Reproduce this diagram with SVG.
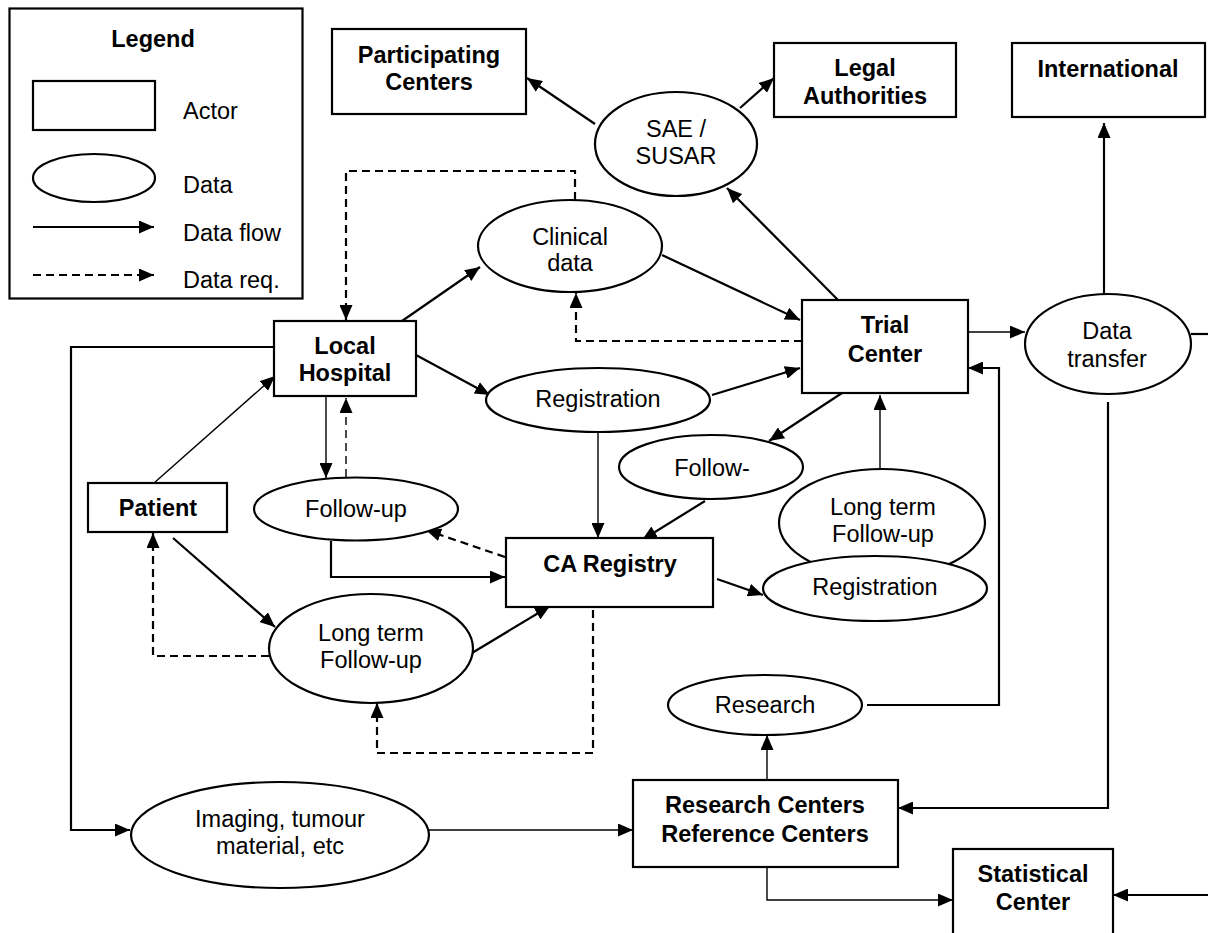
<svg xmlns="http://www.w3.org/2000/svg" width="1208" height="933" viewBox="0 0 1208 933">
  <style>
    text { font-family: "Liberation Sans", Arial, sans-serif; font-size: 23.5px; fill: #000; }
    .b { font-weight: bold; }
    .c { text-anchor: middle; }
    .shape { fill: #fff; stroke: #000; stroke-width: 2.2; }
    .ln { fill: none; stroke: #000; stroke-width: 2.2; }
    .thin { fill: none; stroke: #000; stroke-width: 1.4; }
    .dash { stroke-dasharray: 8 5; }
  </style>
  <defs>
    <marker id="ah" viewBox="0 0 15 13" refX="15" refY="6.5" markerWidth="15" markerHeight="13" markerUnits="userSpaceOnUse" orient="auto">
      <path d="M0,0 L15,6.5 L0,13 z" fill="#000"/>
    </marker>
  </defs>
  <rect width="1208" height="933" fill="#fff"/>

  <!-- legend -->
  <g id="legend">
    <rect class="shape" x="9.5" y="8.5" width="293" height="290"/>
    <text class="b c" x="153" y="47">Legend</text>
    <rect class="shape" x="33" y="81" width="122" height="49"/>
    <text x="183" y="119">Actor</text>
    <ellipse class="shape" cx="94" cy="178" rx="61" ry="24"/>
    <text x="183" y="193">Data</text>
    <line class="ln" x1="33" y1="227" x2="154" y2="227" marker-end="url(#ah)"/>
    <text x="183" y="241">Data flow</text>
    <line class="ln dash" x1="33" y1="275" x2="154" y2="275" marker-end="url(#ah)"/>
    <text x="183" y="288">Data req.</text>
  </g>

  <!-- connectors -->
  <g id="connectors">
    <line class="ln" x1="595" y1="124" x2="527" y2="78" marker-end="url(#ah)"/>
    <line class="ln" x1="740" y1="108" x2="774" y2="78" marker-end="url(#ah)"/>
    <line class="ln" x1="838" y1="300" x2="727" y2="188" marker-end="url(#ah)"/>
    <line class="ln" x1="662" y1="255" x2="800" y2="320" marker-end="url(#ah)"/>
    <line class="ln" x1="402" y1="321" x2="480" y2="267" marker-end="url(#ah)"/>
    <path class="ln dash" d="M575,200 V171 H346 V320" marker-end="url(#ah)"/>
    <path class="ln dash" d="M802,341 H576 V293" marker-end="url(#ah)"/>
    <line class="ln" x1="416" y1="355" x2="490" y2="395" marker-end="url(#ah)"/>
    <line class="ln" x1="712" y1="395" x2="800" y2="368" marker-end="url(#ah)"/>
    <line class="thin" x1="598" y1="432" x2="598" y2="538" marker-end="url(#ah)"/>
    <line class="thin" x1="154" y1="483" x2="275" y2="376" marker-end="url(#ah)"/>
    <line class="thin" x1="326" y1="396" x2="326" y2="478" marker-end="url(#ah)"/>
    <line class="thin dash" x1="346" y1="477" x2="346" y2="398" marker-end="url(#ah)"/>
    <path class="ln" d="M331,541 V577 H505" marker-end="url(#ah)"/>
    <line class="ln dash" x1="505" y1="557" x2="426" y2="530" marker-end="url(#ah)"/>
    <line class="ln" x1="842" y1="393" x2="769" y2="441" marker-end="url(#ah)"/>
    <line class="ln" x1="705" y1="501" x2="642" y2="540" marker-end="url(#ah)"/>
    <line class="thin" x1="880" y1="469" x2="880" y2="395" marker-end="url(#ah)"/>
    <line class="ln" x1="717" y1="579" x2="763" y2="595" marker-end="url(#ah)"/>
    <line class="ln" x1="173" y1="538" x2="275" y2="627" marker-end="url(#ah)"/>
    <path class="ln dash" d="M269,656 H153 V533" marker-end="url(#ah)"/>
    <line class="ln" x1="472" y1="653" x2="550" y2="606" marker-end="url(#ah)"/>
    <path class="ln dash" d="M593,610 V753 H377 V703" marker-end="url(#ah)"/>
    <path class="ln" d="M274,347 H71 V830 H130" marker-end="url(#ah)"/>
    <line class="thin" x1="419" y1="830" x2="633" y2="830" marker-end="url(#ah)"/>
    <line class="thin" x1="767" y1="780" x2="767" y2="735" marker-end="url(#ah)"/>
    <path class="thin" d="M767,867 V900 H953" marker-end="url(#ah)"/>
    <path class="ln" d="M867,705 H999 V368 H968" marker-end="url(#ah)"/>
    <line class="thin" x1="968" y1="332" x2="1025" y2="332" marker-end="url(#ah)"/>
    <line class="ln" x1="1104" y1="294" x2="1104" y2="123" marker-end="url(#ah)"/>
    <line class="ln" x1="1191" y1="334" x2="1208" y2="334"/>
    <path class="ln" d="M1108,402 V808 H898" marker-end="url(#ah)"/>
    <line class="ln" x1="1208" y1="895" x2="1113" y2="895" marker-end="url(#ah)"/>
  </g>

  <!-- actors -->
  <g id="participating-centers">
    <rect class="shape" x="332" y="29" width="194" height="85"/>
    <text class="b c" x="429" y="63">Participating</text>
    <text class="b c" x="429" y="90">Centers</text>
  </g>
  <g id="legal-authorities">
    <rect class="shape" x="774" y="43" width="182" height="74"/>
    <text class="b c" x="865" y="76">Legal</text>
    <text class="b c" x="865" y="104">Authorities</text>
  </g>
  <g id="international">
    <rect class="shape" x="1012" y="43" width="193" height="74"/>
    <text class="b c" x="1108" y="77">International</text>
  </g>
  <g id="trial-center">
    <rect class="shape" x="802" y="300" width="166" height="93"/>
    <text class="b c" x="885" y="333">Trial</text>
    <text class="b c" x="885" y="362">Center</text>
  </g>
  <g id="local-hospital">
    <rect class="shape" x="274" y="321" width="142" height="75"/>
    <text class="b c" x="345" y="354">Local</text>
    <text class="b c" x="345" y="381">Hospital</text>
  </g>
  <g id="patient">
    <rect class="shape" x="88" y="483" width="139" height="49"/>
    <text class="b c" x="158" y="516">Patient</text>
  </g>
  <g id="ca-registry">
    <rect class="shape" x="506" y="538" width="207" height="69"/>
    <text class="b c" x="610" y="572">CA Registry</text>
  </g>
  <g id="research-centers">
    <rect class="shape" x="633" y="780" width="265" height="87"/>
    <text class="b c" x="765" y="813">Research Centers</text>
    <text class="b c" x="765" y="842">Reference Centers</text>
  </g>
  <g id="statistical-center">
    <rect class="shape" x="953" y="849" width="160" height="95"/>
    <text class="b c" x="1033" y="882">Statistical</text>
    <text class="b c" x="1033" y="910">Center</text>
  </g>

  <!-- data items -->
  <g id="sae-susar">
    <ellipse class="shape" cx="676" cy="144" rx="81" ry="52"/>
    <text class="c" x="676" y="137">SAE /</text>
    <text class="c" x="676" y="164">SUSAR</text>
  </g>
  <g id="clinical-data">
    <ellipse class="shape" cx="570" cy="246" rx="92" ry="46"/>
    <text class="c" x="570" y="245">Clinical</text>
    <text class="c" x="570" y="271">data</text>
  </g>
  <g id="data-transfer">
    <ellipse class="shape" cx="1108" cy="344" rx="83" ry="50"/>
    <text class="c" x="1107" y="339">Data</text>
    <text class="c" x="1107" y="367">transfer</text>
  </g>
  <g id="registration">
    <ellipse class="shape" cx="598" cy="400" rx="112" ry="32"/>
    <text class="c" x="598" y="407">Registration</text>
  </g>
  <g id="follow-up">
    <ellipse class="shape" cx="356" cy="509" rx="102" ry="31.5"/>
    <text class="c" x="356" y="517">Follow-up</text>
  </g>
  <g id="follow-trial">
    <ellipse class="shape" cx="711" cy="467" rx="92" ry="32"/>
    <text class="c" x="712" y="476">Follow-</text>
  </g>
  <g id="long-term-follow-up-trial">
    <ellipse class="shape" cx="882" cy="523" rx="103" ry="54"/>
    <text class="c" x="883" y="515">Long term</text>
    <text class="c" x="883" y="542">Follow-up</text>
  </g>
  <g id="registration-trial">
    <ellipse class="shape" cx="875" cy="588.5" rx="112" ry="32.5"/>
    <text class="c" x="875" y="595">Registration</text>
  </g>
  <g id="long-term-follow-up">
    <ellipse class="shape" cx="371" cy="648.5" rx="102" ry="54.5"/>
    <text class="c" x="371" y="641">Long term</text>
    <text class="c" x="371" y="668">Follow-up</text>
  </g>
  <g id="research">
    <ellipse class="shape" cx="765" cy="705" rx="97" ry="30"/>
    <text class="c" x="765" y="713">Research</text>
  </g>
  <g id="imaging">
    <ellipse class="shape" cx="280" cy="835" rx="149" ry="53"/>
    <text class="c" x="280" y="827">Imaging, tumour</text>
    <text class="c" x="280" y="854">material, etc</text>
  </g>
</svg>
